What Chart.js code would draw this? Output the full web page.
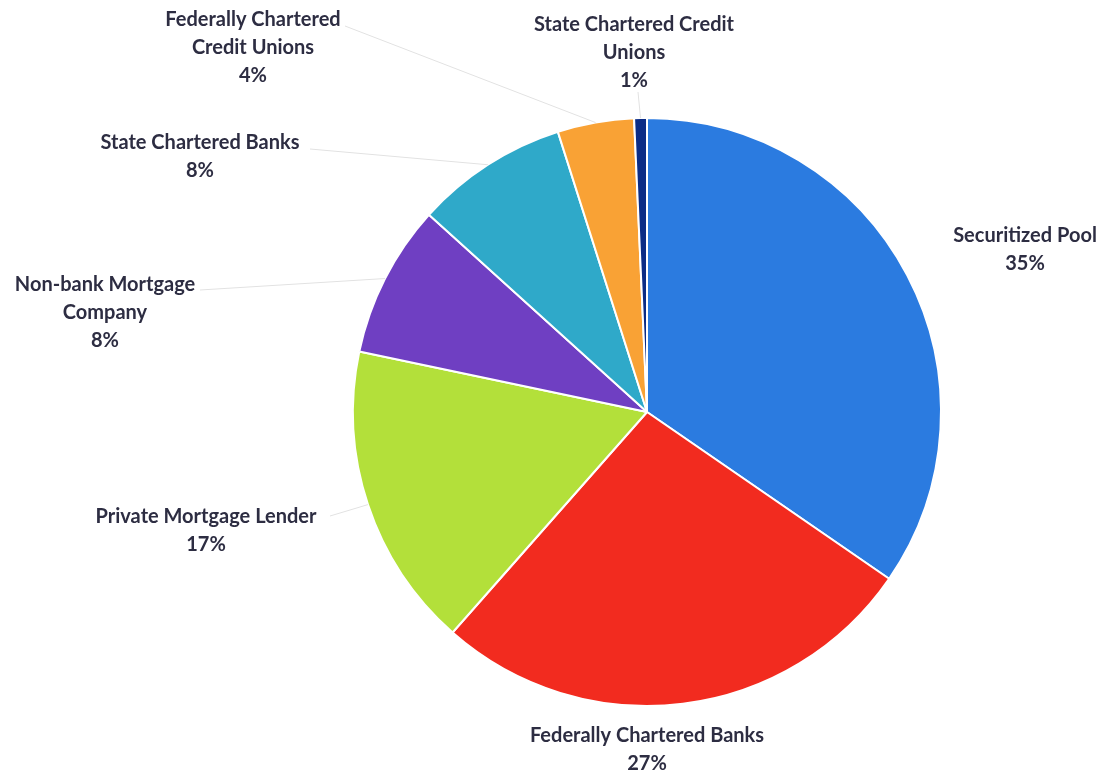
<!DOCTYPE html>
<html>
<head>
<meta charset="utf-8">
<script src="https://cdn.jsdelivr.net/npm/chart.js@4"></script>
<style>
  html, body { margin: 0; padding: 0; background: #fff; }
  #wrap { width: 1108px; height: 777px; position: relative; }
</style>
</head>
<body>
<div id="wrap"><canvas id="pie"></canvas></div>
<script>
// data
const categories = [
  'Securitized Pool',
  'Federally Chartered Banks',
  'Private Mortgage Lender',
  'Non-bank Mortgage Company',
  'State Chartered Banks',
  'Federally Chartered Credit Unions',
  'State Chartered Credit Unions'
];
const shares = [34.6, 26.9, 16.8, 8.4, 8.4, 4.2, 0.7];
const sliceColors = ['#2b7be0', '#f22b1f', '#b3e03a', '#6f3fc2', '#2fa9c9', '#f9a235', '#0b2c86'];

// label text lines and where they sit (label layout, not data)
const labelLines = [
  ['Securitized Pool'],
  ['Federally Chartered Banks'],
  ['Private Mortgage Lender'],
  ['Non-bank Mortgage', 'Company'],
  ['State Chartered Banks'],
  ['Federally Chartered', 'Credit Unions'],
  ['State Chartered Credit', 'Unions']
];
const labelCenters = [[1025, 236], [647, 736], [206, 517], [105, 285], [200, 143], [253, 20], [634, 25]];
const leaderStarts = [null, null, [330, 516], [200, 290], [310, 149], [345, 26], [638, 92]];

const labelPlugin = {
  id: 'sliceLabels',
  afterDatasetsDraw(chart) {
    const ctx = chart.ctx;
    const arcs = chart.getDatasetMeta(0).data;
    ctx.save();
    // leader lines
    ctx.strokeStyle = '#e2e2e2';
    ctx.lineWidth = 1;
    arcs.forEach((arc, i) => {
      const s = leaderStarts[i];
      if (!s) return;
      const p = arc.getProps(['x', 'y', 'startAngle', 'endAngle', 'outerRadius'], true);
      const mid = (p.startAngle + p.endAngle) / 2;
      ctx.beginPath();
      ctx.moveTo(s[0], s[1]);
      ctx.lineTo(p.x + Math.cos(mid) * p.outerRadius, p.y + Math.sin(mid) * p.outerRadius);
      ctx.stroke();
    });
    // texts
    ctx.fillStyle = '#2d2d42';
    ctx.font = 'bold 20px Lato, "Open Sans", sans-serif';
    ctx.textAlign = 'center';
    ctx.textBaseline = 'middle';
    const total = shares.reduce((a, b) => a + b, 0);
    labelLines.forEach((lines, i) => {
      const [cx, cy] = labelCenters[i];
      const all = lines.concat([Math.round(shares[i] / total * 100) + '%']);
      all.forEach((t, k) => ctx.fillText(t, cx, cy + k * 28));
    });
    ctx.restore();
  }
};

new Chart(document.getElementById('pie'), {
  type: 'pie',
  data: {
    labels: categories,
    datasets: [{
      data: shares,
      backgroundColor: sliceColors,
      borderColor: '#ffffff',
      borderWidth: 2
    }]
  },
  options: {
    responsive: true,
    maintainAspectRatio: false,
    animation: false,
    layout: { padding: { top: 117, bottom: 70, left: 352, right: 166 } },
    plugins: {
      legend: { display: false },
      tooltip: { enabled: false }
    }
  },
  plugins: [labelPlugin]
});
</script>
</body>
</html>
